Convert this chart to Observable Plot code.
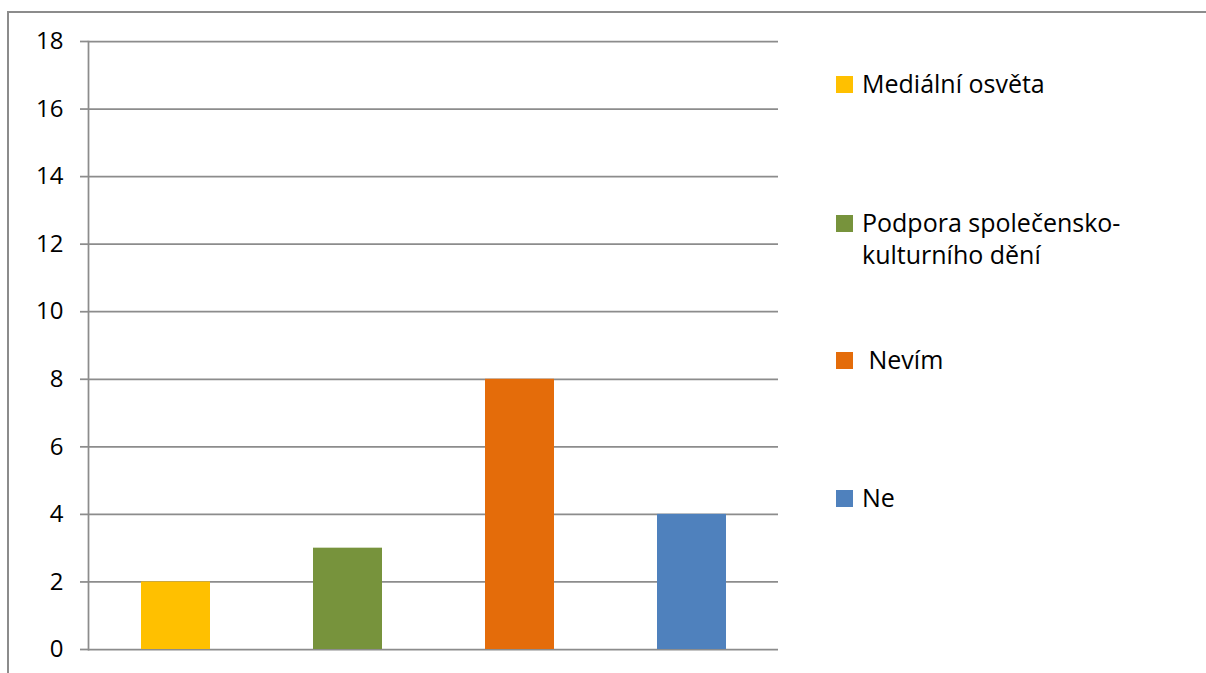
<!DOCTYPE html>
<html>
<head>
<meta charset="utf-8">
<script src="https://cdn.jsdelivr.net/npm/d3@7"></script>
<script src="https://cdn.jsdelivr.net/npm/@observablehq/plot@0.6"></script>
<style>
html, body { margin: 0; padding: 0; background: #fff; }
#wrap { position: relative; width: 1206px; height: 673px; overflow: hidden; font-family: "Open Sans", Lato, sans-serif; }
#border { position: absolute; left: 7px; top: 11px; right: -4px; bottom: -4px; border-top: 2px solid #8c8c8c; border-left: 2px solid #8c8c8c; }
#chart { position: absolute; left: 0; top: 0; }
.item { position: absolute; left: 836px; font-size: 25px; line-height: 32px; color: #000; white-space: pre; }
.sw { position: absolute; left: 0; width: 17px; height: 17px; }
.lt { position: absolute; left: 26px; top: 0; }
</style>
</head>
<body>
<div id="wrap">
  <div id="border"></div>
  <div id="chart"></div>
  <div id="legend"></div>
</div>
<script>
// ---- data ----
const categories = ["Mediální osvěta", "Podpora společensko-kulturního dění", " Nevím", "Ne"];
const values = [2, 3, 8, 4];
const colors = ["#FFC000", "#77933C", "#E46C0A", "#4F81BD"];
const yTicks = [0, 2, 4, 6, 8, 10, 12, 14, 16, 18];
const legendLines = [["Mediální osvěta"], ["Podpora společensko-", "kulturního dění"], [" Nevím"], ["Ne"]];

// ---- chart ----
const rows = categories.map((c, i) => ({cat: c, val: values[i], col: colors[i]}));
const gridColor = "#8c8c8c";

const chart = Plot.plot({
  width: 1206,
  height: 673,
  marginLeft: 88,
  marginRight: 428,
  marginTop: 41,
  marginBottom: 24,
  style: { fontFamily: "'Open Sans', Lato, sans-serif", fontSize: "24px", background: "transparent", color: "#000", overflow: "visible" },
  x: { domain: categories, paddingInner: 0.6, paddingOuter: 0.3, axis: null },
  y: { domain: [0, 18] },
  marks: [
    Plot.gridY(yTicks, { stroke: gridColor, strokeOpacity: 1, strokeWidth: 1.75 }),
    Plot.axisY(yTicks, { tickSize: 8, tickPadding: 17, stroke: gridColor, strokeWidth: 1.75, label: null, tickFormat: d => String(d) }),
    Plot.frame({ anchor: "left", stroke: gridColor, strokeWidth: 1.75 }),
    Plot.barY(rows, { x: "cat", y: "val", fill: "col" })
  ]
});
document.getElementById("chart").appendChild(chart);

// ---- legend (layout) ----
const baselines = [93, 232, 369, 507];
const legend = document.getElementById("legend");
categories.forEach((c, i) => {
  const item = document.createElement("div");
  item.className = "item";
  const top = baselines[i] - 25.7;
  item.style.top = top + "px";
  const sw = document.createElement("div");
  sw.className = "sw";
  sw.style.background = colors[i];
  sw.style.top = (baselines[i] - 17 - top) + "px";
  item.appendChild(sw);
  const lt = document.createElement("div");
  lt.className = "lt";
  lt.innerHTML = legendLines[i].map(s => s.replace(/&/g, "&amp;").replace(/</g, "&lt;")).join("<br>");
  item.appendChild(lt);
  legend.appendChild(item);
});
</script>
</body>
</html>
